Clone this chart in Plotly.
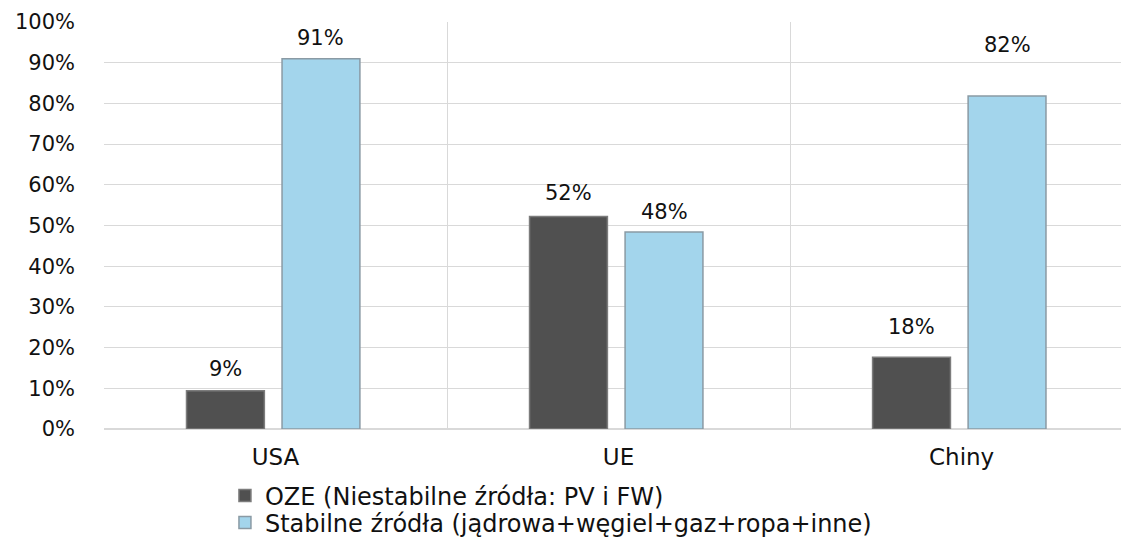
import plotly.graph_objects as go

categories = ["USA", "UE", "Chiny"]
oze_values = [9.4, 52.2, 17.6]
stable_values = [91.0, 48.4, 81.8]
series_names = ["OZE (Niestabilne źródła: PV i FW)",
                "Stabilne źródła (jądrowa+węgiel+gaz+ropa+inne)"]
y_ticks = [0, 10, 20, 30, 40, 50, 60, 70, 80, 90, 100]

FONT = "DejaVu Sans"
OFF = 8                      # default page body margin
W, H = 1129 - OFF, 570       # figure extends below the window; extra room keeps legends inside paper
TOP, LEFT = 22 - OFF, 104 - OFF
AXIS_BOTTOM = 437 - OFF
PAPER_H = H - TOP


def py(page_y):
    return (H - (page_y - OFF)) / PAPER_H


BAR_W = 0.227
OZE_OFF, STB_OFF = -0.2595, 0.019

fig = go.Figure()
fig.add_trace(go.Bar(
    x=categories, y=oze_values, name=series_names[0], legend="legend",
    width=BAR_W, offset=OZE_OFF,
    marker=dict(color="#505050", line=dict(color="#7c7c7c", width=1.5)),
    hoverinfo="skip",
))
fig.add_trace(go.Bar(
    x=categories, y=stable_values, name=series_names[1], legend="legend2",
    width=BAR_W, offset=STB_OFF,
    marker=dict(color="#a3d5ec", line=dict(color="#8a9aa4", width=1.5)),
    hoverinfo="skip",
))

# data labels
oze_shift = [22, 24, 30]
stable_shift = [21, 20, 51]
for vals, shifts, off in [(oze_values, oze_shift, OZE_OFF + BAR_W / 2),
                          (stable_values, stable_shift, STB_OFF + BAR_W / 2)]:
    for i, (v, s) in enumerate(zip(vals, shifts)):
        fig.add_annotation(
            x=i + off, y=v, xref="x", yref="y",
            text=f"{round(v)}%", showarrow=False, yshift=s,
            yanchor="middle", font=dict(family=FONT, size=21, color="#111111"),
        )

leg_common = dict(orientation="v", xanchor="left", yanchor="middle",
                  bgcolor="rgba(0,0,0,0)",
                  font=dict(family=FONT, size=24, color="#111111"),
                  itemwidth=30, tracegroupgap=0)
fig.update_layout(
    width=W, height=H,
    margin=dict(l=LEFT, r=0, t=TOP, b=0),
    paper_bgcolor="white", plot_bgcolor="white",
    barmode="group",
    font=dict(family=FONT, size=21, color="#111111"),
    showlegend=True,
    legend=dict(x=0.118, y=py(496), **leg_common),
    legend2=dict(x=0.118, y=py(523), **leg_common),
    xaxis=dict(range=[-0.5, 2.488], tickson="boundaries", showgrid=True,
               gridcolor="#d9d9d9", gridwidth=1, ticks="", showline=False,
               automargin=False, anchor="y",
               ticklabelstandoff=12, tickfont=dict(family=FONT, size=23)),
    yaxis=dict(range=[0, 100], domain=[py(AXIS_BOTTOM), 1], tickvals=y_ticks,
               automargin=False,
               ticktext=[f"{t}%" for t in y_ticks], showgrid=True,
               gridcolor="#d9d9d9", gridwidth=1, zeroline=True,
               zerolinecolor="#d9d9d9", ticks="", ticklabelstandoff=28,
               tickfont=dict(family=FONT, size=21)),
)

fig.write_html("out.html")
